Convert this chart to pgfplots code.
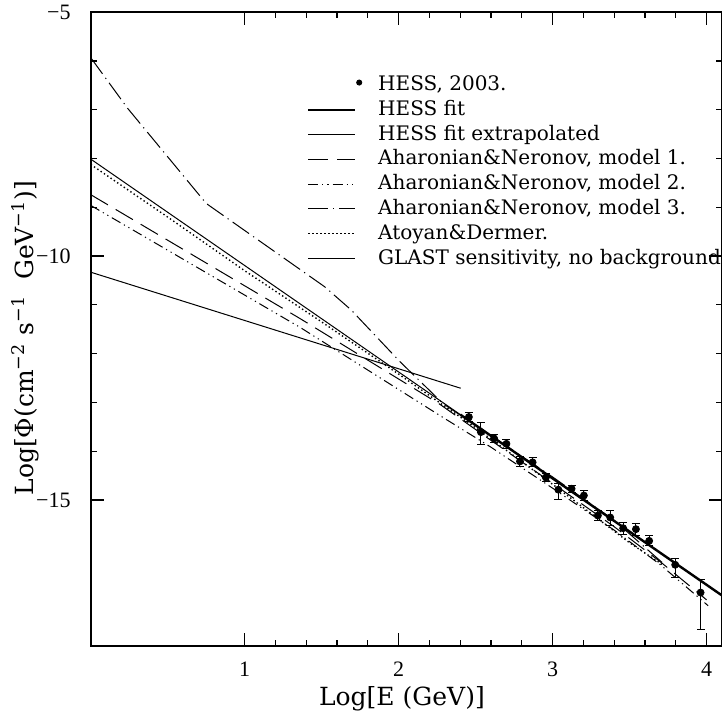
\documentclass[border=0pt]{standalone}
\usepackage{fontspec}
\setmainfont{DejaVu Serif}
\newfontfamily\tickfont{Liberation Serif}
\usepackage{pgfplots}
\usepackage{pgfplotstable}
\pgfplotsset{compat=1.18}

% HESS 2003 points: log E, log flux, upper and lower error
\pgfplotstableread{
x      y       ep    em
2.456  -13.30  0.10  0.10
2.534  -13.61  0.19  0.25
2.620  -13.74  0.09  0.09
2.700  -13.85  0.09  0.09
2.788  -14.21  0.10  0.10
2.870  -14.23  0.09  0.09
2.956  -14.54  0.08  0.08
3.037  -14.79  0.12  0.21
3.123  -14.77  0.07  0.07
3.203  -14.91  0.10  0.10
3.294  -15.32  0.11  0.11
3.374  -15.36  0.15  0.17
3.458  -15.58  0.12  0.12
3.541  -15.60  0.12  0.12
3.627  -15.84  0.10  0.10
3.796  -16.33  0.12  0.26
3.961  -16.90  0.26  0.75
}\hessdata

\begin{document}
\begin{tikzpicture}
\begin{axis}[
  scale only axis,
  width=315.6pt, height=316.9pt,
  xmin=0, xmax=4.1, ymin=-18, ymax=-5,
  xtick={1,2,3,4}, xticklabels={1,2,3,4},
  ytick={-15,-10,-5}, yticklabels={−15,−10,−5},
  minor x tick num=4, minor y tick num=4,
  tick align=inside,
  major tick length=6.5pt, minor tick length=3pt,
  axis line style={line width=1.2pt},
  tick style={line width=0.6pt, black},
  ticklabel style={font=\tickfont\fontsize{11}{12}\selectfont},
  xticklabel style={yshift=-4.5pt},
  yticklabel style={xshift=-6.5pt},
  xlabel={Log[E (GeV)]},
  ylabel={Log[Φ(cm\textsuperscript{−2} s\textsuperscript{−1}\ \ GeV\textsuperscript{−1})]},
  label style={font=\fontsize{12.5}{14}\selectfont},
  xlabel style={at={(rel axis cs:0.493,-0.0836)}, anchor=center},
  ylabel style={at={(rel axis cs:-0.104,0.486)}, anchor=center},
  legend image code/.code={\draw[#1] (0pt,0pt) -- (23.3pt,0pt);},
  legend cell align=left,
  legend style={at={(rel axis cs:0.342,0.901)}, anchor=north west,
    draw=none, fill=none, inner sep=0pt,
    font=\fontsize{10}{11}\selectfont,
    nodes={inner sep=0pt, text height=7.5pt, text depth=2pt},
    row sep=2.9pt, column sep=8pt},
]
\addplot[only marks, mark=*, mark size=1.75pt, black,
  legend image code/.code={\fill (25.5pt,1.2pt) circle (1.3pt);},
  error bars/.cd, y dir=both, y explicit,
  error mark options={rotate=90, mark size=2pt, line width=0.5pt},
  error bar style={line width=0.5pt, black},
  ] table[x=x, y=y, y error plus=ep, y error minus=em] {\hessdata};
\addlegendentry{HESS, 2003.}
\addplot[black, line width=1.2pt] coordinates {(2.4,-13.25) (4.1,-16.96)};
\addlegendentry{HESS fit}
\addplot[black, line width=0.5pt] coordinates {(0,-8.01) (2.4,-13.25)};
\addlegendentry{HESS fit extrapolated}
\addplot[black, line width=0.5pt, dash pattern=on 10pt off 4.5pt] coordinates {
  (0,-8.74) (1.359,-11.28) (2.268,-13.04) (2.6,-13.78) (3.0,-14.66)
  (3.4,-15.55) (3.7,-16.27) (4.0,-17.05)};
\addlegendentry{Aharonian\&Neronov, model 1.}
\addplot[black, line width=0.5pt, dash pattern=on 5pt off 2pt on 0.6pt off 2pt on 0.6pt off 2pt] coordinates {
  (0,-8.96) (1.359,-11.46) (2.268,-13.27) (2.6,-13.92) (3.0,-14.76)
  (3.4,-15.62) (3.7,-16.33) (4.01,-17.17)};
\addlegendentry{Aharonian\&Neronov, model 2.}
\addplot[black, line width=0.5pt, dash pattern=on 10pt off 2.5pt on 0.6pt off 2.5pt] coordinates {
  (0,-5.93) (0.24,-6.97) (0.75,-8.92) (1.52,-10.63) (1.69,-11.10)
  (2.01,-12.17) (2.29,-13.03) (2.4,-13.26) (3.0,-14.53) (3.4,-15.42) (3.71,-16.28)};
\addlegendentry{Aharonian\&Neronov, model 3.}
\addplot[black, line width=0.7pt, dash pattern=on 0.7pt off 1.3pt] coordinates {
  (0,-8.12) (0.5,-9.20) (1.0,-10.30) (1.5,-11.35) (2.0,-12.42) (2.5,-13.52)
  (3.0,-14.68) (3.3,-15.40) (3.5,-15.88) (3.71,-16.32)};
\addlegendentry{Atoyan\&Dermer.}
\addplot[black, line width=0.5pt] coordinates {(0,-10.33) (2.403,-12.71)};
\addlegendentry{GLAST sensitivity, no background}
\end{axis}
\pgfresetboundingbox
\path[use as bounding box] ([shift={(-45.35pt,-32pt)}]current axis.south west)
  rectangle ([shift={(0pt,6.15pt)}]current axis.north east);
\end{tikzpicture}
\end{document}
